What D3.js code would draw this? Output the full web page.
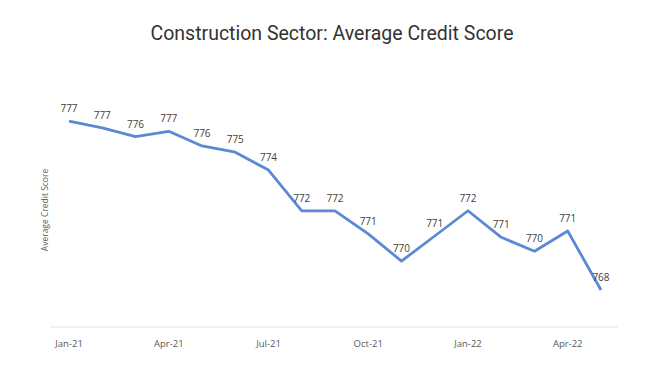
<!DOCTYPE html>
<html>
<head>
<meta charset="utf-8">
<script src="https://cdn.jsdelivr.net/npm/d3@7"></script>
<style>
  body { margin: 0; background: #fff; }
  svg { display: block; }
</style>
</head>
<body>
<svg id="chart" width="655" height="377"></svg>
<script>
// monthly averages, Jan-21 .. May-22
const months = ["Jan-21", "Feb-21", "Mar-21", "Apr-21", "May-21", "Jun-21", "Jul-21", "Aug-21", "Sep-21",
  "Oct-21", "Nov-21", "Dec-21", "Jan-22", "Feb-22", "Mar-22", "Apr-22", "May-22"];
const scores = [777.09, 776.72, 776.25, 776.54, 775.75, 775.41, 774.45, 772.25, 772.25,
  771.01, 769.55, 770.9, 772.26, 770.83, 770.08, 771.17, 767.99];
const tickLabels = ["Jan-21", "Apr-21", "Jul-21", "Oct-21", "Jan-22", "Apr-22"];
const yRange = [766, 780];

const svg = d3.select("#chart");
const plotLeft = 52.4, plotRight = 617.6, plotTop = 67, plotBottom = 327;

const xScale = d3.scaleBand()
  .domain(months)
  .range([plotLeft, plotRight]);
const yScale = d3.scaleLinear()
  .domain(yRange)
  .range([plotBottom, plotTop]);

// title
svg.append("text")
  .attr("x", 332)
  .attr("y", 40)
  .attr("text-anchor", "middle")
  .style("font-family", "Roboto")
  .style("font-size", "19.5px")
  .style("fill", "#333")
  .text("Construction Sector: Average Credit Score");

// y axis title
svg.append("text")
  .attr("transform", "translate(48,210) rotate(-90)")
  .attr("text-anchor", "middle")
  .style("font-family", "Open Sans")
  .style("font-size", "8.5px")
  .style("fill", "#595959")
  .text("Average Credit Score");

// x axis
const xAxis = d3.axisBottom(xScale)
  .tickValues(tickLabels)
  .tickSize(0)
  .tickPadding(13);
const gx = svg.append("g")
  .attr("transform", "translate(0," + plotBottom + ")")
  .call(xAxis);
gx.select(".domain").attr("stroke", "#e3e3e3").attr("stroke-width", 1.2)
  .attr("d", "M" + (plotLeft - 2) + ",0H" + plotRight);
gx.selectAll("text")
  .style("font-family", "Open Sans")
  .style("font-size", "9.5px")
  .style("fill", "#595959");

const line = d3.line()
  .x((d, i) => xScale(months[i]) + xScale.bandwidth() / 2)
  .y(d => yScale(d));

svg.append("path")
  .datum(scores)
  .attr("fill", "none")
  .attr("stroke", "#5b89d3")
  .attr("stroke-width", 2.8)
  .attr("stroke-linejoin", "round")
  .attr("d", line);

// data labels
svg.selectAll(".lbl")
  .data(scores)
  .enter().append("text")
  .attr("class", "lbl")
  .attr("x", (d, i) => xScale(months[i]) + xScale.bandwidth() / 2)
  .attr("y", d => yScale(d) - 9)
  .attr("text-anchor", "middle")
  .style("font-family", "Open Sans")
  .style("font-size", "10px")
  .style("fill", "#404040")
  .text(d => Math.round(d));
</script>
</body>
</html>
